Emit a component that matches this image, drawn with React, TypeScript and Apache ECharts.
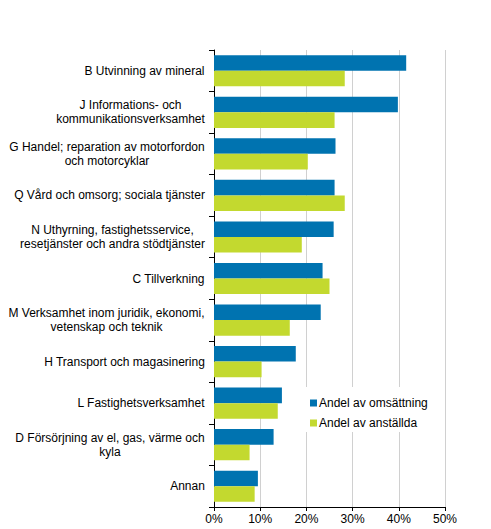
import React, { useEffect, useRef } from 'react';
import * as echarts from 'echarts';

// Categories, top to bottom
const categories: string[] = [
  'B Utvinning av mineral',
  'J Informations- och\nkommunikationsverksamhet',
  'G Handel; reparation av motorfordon\noch motorcyklar',
  'Q Vård och omsorg; sociala tjänster',
  'N Uthyrning, fastighetsservice,\nresetjänster och andra stödtjänster',
  'C Tillverkning',
  'M Verksamhet inom juridik, ekonomi,\nvetenskap och teknik',
  'H Transport och magasinering',
  'L Fastighetsverksamhet',
  'D Försörjning av el, gas, värme och\nkyla',
  'Annan',
];

// Percentages
const omsattning: number[] = [41.6, 39.8, 26.3, 26.1, 25.9, 23.5, 23.1, 17.7, 14.7, 12.9, 9.5];
const anstallda: number[] = [28.3, 26.1, 20.3, 28.3, 19.0, 25.0, 16.4, 10.3, 13.8, 7.7, 8.8];

const seriesNames = ['Andel av omsättning', 'Andel av anställda'];
const colors = ['#0073b0', '#c3d92f'];

const FONT = 'Arial, "Liberation Sans", sans-serif';

// measure each label's widest line, so the lines can be centred on each other
const measureLines = (text: string): number => {
  const ctx = document.createElement('canvas').getContext('2d');
  if (!ctx) return 200;
  ctx.font = `12px ${FONT}`;
  return Math.max(...text.split('\n').map((l) => ctx.measureText(l).width));
};

export default function App() {
  const chartRef = useRef<HTMLDivElement>(null);

  useEffect(() => {
    if (!chartRef.current) return;
    const chart = echarts.init(chartRef.current, undefined, { renderer: 'svg' });

    const rich: Record<string, any> = {};
    categories.forEach((c, i) => {
      rich['c' + i] = {
        width: Math.ceil(measureLines(c)),
        align: 'center',
        fontSize: 12,
        fontFamily: FONT,
        color: '#000',
        lineHeight: 14,
      };
    });

    const option: echarts.EChartsOption = {
      animation: false,
      backgroundColor: '#fff',
      textStyle: { fontFamily: FONT },
      grid: {
        left: 214,
        right: 46,
        top: 50,
        bottom: 22,
      },
      legend: {
        orient: 'vertical',
        left: 305,
        top: 387,
        padding: [10, 5, 3, 5],
        backgroundColor: '#fff',
        itemWidth: 7,
        itemHeight: 7,
        itemGap: 8,
        icon: 'rect',
        data: seriesNames,
        textStyle: { fontSize: 12, color: '#000', fontFamily: FONT, padding: [0, 0, 0, -3] },
      },
      xAxis: {
        type: 'value',
        min: 0,
        max: 50,
        interval: 10,
        axisLine: { show: true, lineStyle: { color: '#000', width: 1 } },
        axisTick: { show: true, length: 4, lineStyle: { color: '#000' } },
        axisLabel: {
          formatter: '{value}%',
          color: '#000',
          fontSize: 12,
          fontFamily: FONT,
          margin: 6,
        },
        splitLine: { show: true, lineStyle: { color: '#d0d0d0', width: 1 } },
      },
      yAxis: {
        type: 'category',
        inverse: true,
        data: categories,
        axisLine: { show: true, lineStyle: { color: '#000', width: 1 } },
        axisTick: { show: true, length: 5, lineStyle: { color: '#000' } },
        axisLabel: {
          margin: 9,
          formatter: (value: string, idx: number) =>
            value
              .split('\n')
              .map((l) => `{c${idx}|${l}}`)
              .join('\n'),
          rich,
        },
      },
      series: [
        {
          name: seriesNames[0],
          type: 'bar',
          data: omsattning,
          itemStyle: { color: colors[0] },
          barGap: '0%',
          barCategoryGap: '25%',
        },
        {
          name: seriesNames[1],
          type: 'bar',
          data: anstallda,
          itemStyle: { color: colors[1] },
          barGap: '0%',
          barCategoryGap: '25%',
        },
      ],
    };

    chart.setOption(option);
    return () => {
      chart.dispose();
    };
  }, []);

  return (
    <div
      ref={chartRef}
      style={{ position: 'fixed', left: 0, top: 0, width: 491, height: 529 }}
    />
  );
}
